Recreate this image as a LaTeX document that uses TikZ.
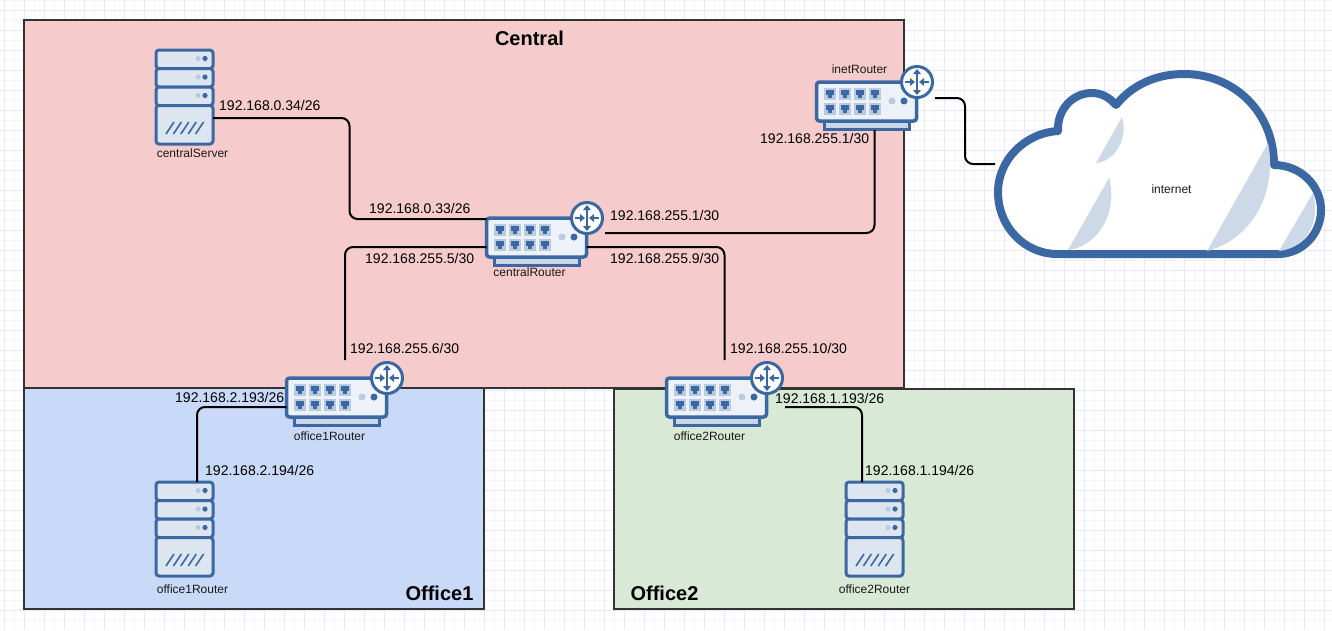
\documentclass[tikz,border=0pt]{standalone}
\usepackage{fontspec}
\setmainfont{Liberation Sans}
\usetikzlibrary{calc}
\definecolor{gridmin}{HTML}{F4F4FF}
\definecolor{gridmaj}{HTML}{E6E6FF}
\definecolor{dblue}{HTML}{3B68A2}
\definecolor{lblue}{HTML}{DDE5F1}
\definecolor{rfill}{HTML}{EDF1F8}
\definecolor{pblue}{HTML}{B9CAE1}
\definecolor{cshade}{HTML}{CDD9E7}
\definecolor{cfill}{HTML}{F5CCCB}
\definecolor{ofill}{HTML}{C8DAF8}
\definecolor{gfill}{HTML}{D8E9D5}
\definecolor{edge}{HTML}{333333}
\tikzset{
  zone/.style={draw=edge,line width=2pt,inner sep=0,outer sep=0,anchor=north west},
  zonetitle/.style={font=\fontsize{20}{24}\selectfont\bfseries,inner sep=0,text=black},
  iplabel/.style={font=\fontsize{14}{16}\selectfont,inner sep=0,anchor=west,text=black},
  devlabel/.style={font=\fontsize{12}{14}\selectfont,inner sep=0,text=black!90},
  link/.style={draw=black,line width=2pt,rounded corners=8pt},
  routerbody/.style={draw=dblue,fill=rfill,line width=3.5pt,rounded corners=3pt,minimum width=100pt,minimum height=39pt,inner sep=0,outer sep=0,anchor=north west},
  routerbase/.style={draw=dblue,fill=pblue!75,line width=3pt},
  routercircle/.style={draw=dblue,fill=white,line width=3pt},
  unitbox/.style={draw=dblue,fill=lblue,line width=3pt,rounded corners=3pt},
  serverbody/.style={inner sep=0,outer sep=0,minimum width=57pt,minimum height=94pt,anchor=north west},
  arrowline/.style={draw=dblue,line width=1.6pt},
}
% #1 node name, #2 x, #3 y
\newcommand{\routerdev}[3]{%
  \begin{scope}[shift={(#2,#3)}]
    \draw[routerbase] (8,40) rectangle (93,48);
    \node[routerbody] (#1) at (0.5,1) {};
    \foreach \px in {7.5,22.5,37.5,52.5}{\foreach \py in {7,22}{
      \fill[pblue] (\px,\py) rectangle ++(12,12);
      \fill[dblue] (\px+2,\py+2) rectangle ++(8,5);
      \fill[dblue] (\px+4,\py+7) rectangle ++(4,3);
    }}
    \fill[pblue] (76,20) circle (3.5);
    \fill[dblue] (88,20) circle (3.5);
    \draw[routercircle] (101,1) circle (15.5);
    \draw[arrowline] (101,-9) -- (101,11);
    \fill[dblue] (101,-12) -- (97,-7) -- (105,-7) -- cycle;
    \fill[dblue] (101,14) -- (97,9) -- (105,9) -- cycle;
    \draw[arrowline] (89,1) -- (96,1);
    \fill[dblue] (99,1) -- (94,-3) -- (94,5) -- cycle;
    \draw[arrowline] (106,1) -- (113,1);
    \fill[dblue] (103,1) -- (108,-3) -- (108,5) -- cycle;
  \end{scope}}
\newcommand{\serverdev}[3]{%
  \begin{scope}[shift={(#2,#3)}]
    \node[serverbody] (#1) at (0,0) {};
    \foreach \uy in {0,18.5,37}{
      \draw[unitbox] (0,\uy) rectangle ++(57,18.5);
      \fill[pblue] (42,\uy+8.5) circle (2.6);
      \fill[dblue] (49,\uy+8.5) circle (2.6);
    }
    \draw[unitbox] (0,55.5) rectangle (57,94);
    \foreach \sx in {0,7.4,14.8,22.2,29.6}{
      \draw[draw=dblue,line width=1.6pt] (10+\sx,84) -- (18+\sx,72);
    }
  \end{scope}}
\begin{document}
\begin{tikzpicture}[x=1pt,y=-1pt]
\useasboundingbox (0,0) rectangle (1332,630);
\fill[white] (0,0) rectangle (1332,630);
\foreach \gx in {14.5,34.5,...,1330}{\draw[gridmin,line width=1pt] (\gx,0) -- (\gx,630);}
\foreach \gy in {0.5,20.5,...,630}{\draw[gridmin,line width=1pt] (0,\gy) -- (1332,\gy);}
\foreach \gx in {4.5,24.5,...,1330}{\draw[gridmaj,line width=1pt] (\gx,0) -- (\gx,630);}
\foreach \gy in {10.5,30.5,...,630}{\draw[gridmaj,line width=1pt] (0,\gy) -- (1332,\gy);}

\node[zone,fill=ofill,minimum width=460pt,minimum height=221pt] (office1zone) at (24,388) {};
\node[zone,fill=gfill,minimum width=460pt,minimum height=220pt] (office2zone) at (614,389) {};
\node[zone,fill=cfill,minimum width=880pt,minimum height=368pt] (centralzone) at (24,20) {};
\node[zonetitle] (centraltitle) at (529.5,38) {Central};
\node[zonetitle] (office1title) at (439.5,593) {Office1};
\node[zonetitle] (office2title) at (664.5,593) {Office2};

% cloud
\filldraw[draw=dblue,fill=white,line width=8pt,line join=round]
  (1057,254) -- (1278,254)
  .. controls (1302,254) and (1321,234) .. (1321,210)
  .. controls (1321,185) and (1300,165) .. (1274,165)
  .. controls (1274,112) and (1234,74) .. (1184,74)
  .. controls (1156,74) and (1132,85) .. (1116,105)
  .. controls (1110,98) and (1102,93) .. (1092,93)
  .. controls (1072,93) and (1057,110) .. (1058,131)
  .. controls (1025,133) and (998,160) .. (998,192)
  .. controls (998,227) and (1025,254) .. (1057,254) -- cycle;
\fill[cshade] (1122,117) .. controls (1128,138) and (1116,161) .. (1096,163) -- cycle;
\fill[cshade] (1109,178) .. controls (1118,210) and (1100,246) .. (1068,250) -- cycle;
\fill[cshade] (1268,143) .. controls (1278,195) and (1250,240) .. (1207,251) -- cycle;
\fill[cshade] (1313,193) .. controls (1321,222) and (1306,248) .. (1279,251) -- cycle;
\node[devlabel] (internet) at (1171.5,189.5) {internet};

\routerdev{centralRouter}{486}{217}
\routerdev{inetRouter}{816}{81}
\routerdev{officeARouter}{286}{377}
\routerdev{officeBRouter}{666}{377}
\serverdev{centralServer}{156}{50}
\serverdev{officeAServer}{156}{482}
\serverdev{officeBServer}{846}{482}

\node[devlabel] (l1) at (529.5,272.5) {centralRouter};
\node[devlabel] (l2) at (859.5,69) {inetRouter};
\node[devlabel] (l3) at (329.5,436.5) {office1Router};
\node[devlabel] (l4) at (709.5,436.5) {office2Router};
\node[devlabel] (l5) at (192.5,153) {centralServer};
\node[devlabel] (l6) at (192.5,589) {office1Router};
\node[devlabel] (l7) at (874.5,589) {office2Router};

% connectors
\coordinate (cloudport) at (995,164);
\draw[link] ([yshift=-21pt]centralServer.east) -| (349.5,219) -- ([yshift=18.5pt]centralRouter.west);
\draw[link] ([yshift=-9.5pt]centralRouter.west) -| ([xshift=8.5pt,yshift=18pt]officeARouter.north);
\draw[link] ([xshift=18.5pt,yshift=4.5pt]centralRouter.east) -| ([xshift=8pt,yshift=-9pt]inetRouter.south);
\draw[link] ([yshift=-9.5pt]centralRouter.east) -| ([xshift=8pt,yshift=18pt]officeBRouter.north);
\draw[link] ([yshift=-9.5pt]officeARouter.west) -| ([xshift=12.5pt]officeAServer.north);
\draw[link] ([xshift=18.5pt,yshift=-9.5pt]officeBRouter.east) -| ([xshift=-12.5pt]officeBServer.north);
\draw[link] ([xshift=18.5pt,yshift=3.5pt]inetRouter.east) -- (965,98) -- (965,164) -- (cloudport);

\node[iplabel] (a1) at (219,105) {192.168.0.34/26};
\node[iplabel] (a2) at (369,208) {192.168.0.33/26};
\node[iplabel] (a3) at (610,215) {192.168.255.1/30};
\node[iplabel] (a4) at (365,258) {192.168.255.5/30};
\node[iplabel] (a5) at (610,258) {192.168.255.9/30};
\node[iplabel] (a6) at (760,138) {192.168.255.1/30};
\node[iplabel] (a7) at (350,348) {192.168.255.6/30};
\node[iplabel] (a8) at (730,348) {192.168.255.10/30};
\node[iplabel] (a9) at (175,397) {192.168.2.193/26};
\node[iplabel] (a10) at (775,398) {192.168.1.193/26};
\node[iplabel] (a11) at (205,470) {192.168.2.194/26};
\node[iplabel] (a12) at (865,470) {192.168.1.194/26};
\end{tikzpicture}
\end{document}
